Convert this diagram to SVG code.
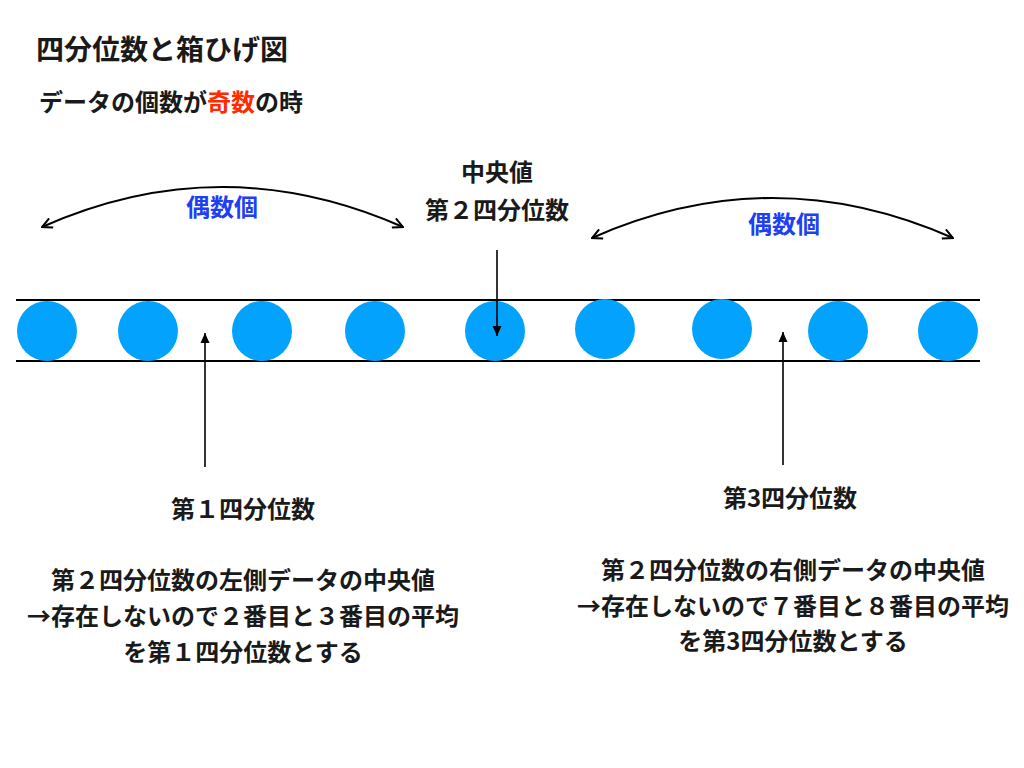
<svg xmlns="http://www.w3.org/2000/svg" width="1024" height="768" viewBox="0 0 1024 768">
<defs>
<style>
text{font-family:"Noto Sans CJK JP","Noto Sans CJK SC",sans-serif;font-weight:bold;fill:#1a1a1a;}
.t{font-size:28px;}
.s{font-size:24px;}
.l{font-size:24px;text-anchor:middle;}
.b{fill:#1f3ff5;}
.r{fill:#ff2a00;}
.dot{fill:#03a2fd;}
.rail{stroke:#000;stroke-width:2;}
.arc{fill:none;stroke:#000;stroke-width:2;marker-start:url(#open);marker-end:url(#open);}
.ptr{fill:none;stroke:#000;stroke-width:1.6;marker-end:url(#solid);}
</style>
<marker id="open" viewBox="0 0 12 12" refX="11" refY="6" markerWidth="12" markerHeight="12" markerUnits="userSpaceOnUse" orient="auto-start-reverse">
<path d="M1,1 L11,6 L1,11" fill="none" stroke="#000" stroke-width="2"/>
</marker>
<marker id="solid" viewBox="0 0 10 10" refX="10" refY="5" markerWidth="10" markerHeight="10" markerUnits="userSpaceOnUse" orient="auto">
<path d="M0,0.5 L10,5 L0,9.5 Z" fill="#000"/>
</marker>
</defs>
<rect width="1024" height="768" fill="#fff"/>
<g id="title">
<text class="t" x="36" y="60">四分位数と箱ひげ図</text>
<text class="s" x="39" y="111">データの個数が<tspan class="r">奇数</tspan>の時</text>
</g>
<g id="rails">
<line class="rail" x1="16" y1="300" x2="980" y2="300"/>
<line class="rail" x1="16" y1="361" x2="980" y2="361"/>
</g>
<g id="data">
<circle class="dot" cx="47" cy="331" r="30"/>
<circle class="dot" cx="148" cy="331" r="30"/>
<circle class="dot" cx="262" cy="331" r="30"/>
<circle class="dot" cx="375" cy="331" r="30"/>
<circle class="dot" cx="495" cy="331" r="30"/>
<circle class="dot" cx="605" cy="329" r="30"/>
<circle class="dot" cx="722" cy="329" r="30"/>
<circle class="dot" cx="838" cy="331" r="30"/>
<circle class="dot" cx="948" cy="331" r="30"/>
</g>
<g id="connectors">
<path class="arc" d="M42,227 Q222,147 403,227"/>
<path class="arc" d="M592,238 Q772,158 953,238"/>
<line class="ptr" x1="497" y1="250" x2="497" y2="336"/>
<line class="ptr" x1="205" y1="467" x2="205" y2="333"/>
<line class="ptr" x1="783" y1="465" x2="783" y2="332"/>
</g>
<g id="even-left"><text class="l b" x="222" y="216">偶数個</text></g>
<g id="even-right"><text class="l b" x="784" y="233">偶数個</text></g>
<g id="median">
<text class="l" x="497" y="181">中央値</text>
<text class="l" x="497" y="219">第２四分位数</text>
</g>
<g id="q1">
<text class="l" x="243" y="518">第１四分位数</text>
<text class="l" x="243" y="589">第２四分位数の左側データの中央値</text>
<text class="l" x="243" y="625">→存在しないので２番目と３番目の平均</text>
<text class="l" x="243" y="661">を第１四分位数とする</text>
</g>
<g id="q3">
<text class="l" x="790" y="507">第3四分位数</text>
<text class="l" x="793" y="579">第２四分位数の右側データの中央値</text>
<text class="l" x="793" y="615">→存在しないので７番目と８番目の平均</text>
<text class="l" x="793" y="650">を第3四分位数とする</text>
</g>
</svg>
